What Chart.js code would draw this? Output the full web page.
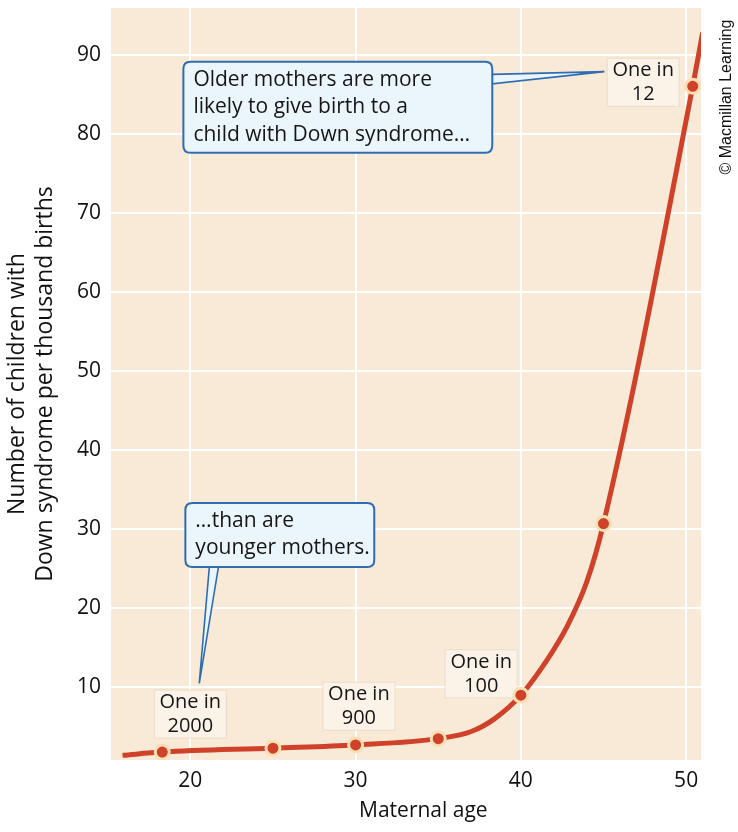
<!DOCTYPE html>
<html>
<head>
<meta charset="utf-8">
<script src="https://cdn.jsdelivr.net/npm/chart.js@4"></script>
<style>
  html, body { margin: 0; padding: 0; background: #fff; }
  #chart { display: block; }
</style>
</head>
<body>
<canvas id="chart" width="738" height="832"></canvas>
<script>
// values
const markerAges = [18.3, 25, 30, 35, 40, 45, 50.4];
const markerRates = [1.8, 2.3, 2.7, 3.5, 9, 30.7, 86];
const curveAges = [15.9, 18.3, 25, 30, 35, 37, 38.4, 40, 41.6, 42.8, 44, 45, 50.4, 51];
const curveRates = [1.4, 1.8, 2.3, 2.7, 3.5, 4.4, 6.0, 9, 13.5, 17.7, 23.4, 30.7, 86, 92.8];
const xTicks = [20, 30, 40, 50];
const yTicks = [10, 20, 30, 40, 50, 60, 70, 80, 90];
const rateLabels = [['One in', '2000'], ['One in', '900'], ['One in', '100'], ['One in', '12']];
const calloutTexts = [
    ['Older mothers are more', 'likely to give birth to a', 'child with Down syndrome\u2026'],
    ['\u2026than are', 'younger mothers.']
];

// where the labels sit (data units)
const rateLabelPos = [[20.0, 6.6], [30.2, 7.6], [37.6, 11.7], [47.4, 86.5]];
const calloutBoxes = [
    {x1: 19.58, x2: 38.27, yTop: 89.1, yBot: 77.6, base: [[38.27, 87.5], [38.27, 86.3]], tip: [45.05, 87.85]},
    {x1: 19.7, x2: 31.13, yTop: 33.3, yBot: 25.2, base: [[21.15, 25.2], [21.7, 25.2]], tip: [20.54, 10.5]}
];

const FONT = '"Open Sans", "Noto Sans", sans-serif';
const RED = '#cf4128';

function toPoints(xs, ys) {
    return xs.map((v, i) => ({x: v, y: ys[i]}));
}

function roundRect(ctx, x, y, w, h, r) {
    ctx.beginPath();
    ctx.moveTo(x + r, y);
    ctx.lineTo(x + w - r, y);
    ctx.quadraticCurveTo(x + w, y, x + w, y + r);
    ctx.lineTo(x + w, y + h - r);
    ctx.quadraticCurveTo(x + w, y + h, x + w - r, y + h);
    ctx.lineTo(x + r, y + h);
    ctx.quadraticCurveTo(x, y + h, x, y + h - r);
    ctx.lineTo(x, y + r);
    ctx.quadraticCurveTo(x, y, x + r, y);
    ctx.closePath();
}

const deco = {
    id: 'deco',
    beforeDraw(chart) {
        const a = chart.chartArea;
        const ctx = chart.ctx;
        ctx.save();
        ctx.fillStyle = '#f9ead7';
        ctx.fillRect(a.left, a.top, a.right - a.left, a.bottom - a.top);
        ctx.restore();
    },
    beforeDatasetsDraw(chart) {
        const ctx = chart.ctx;
        const sx = chart.scales.x, sy = chart.scales.y;
        ctx.save();
        // "One in ..." labels
        ctx.font = '20px ' + FONT;
        ctx.textAlign = 'center';
        ctx.textBaseline = 'middle';
        rateLabels.forEach((lines, i) => {
            const px = sx.getPixelForValue(rateLabelPos[i][0]);
            const py = sy.getPixelForValue(rateLabelPos[i][1]);
            ctx.fillStyle = '#fcf3e8';
            ctx.fillRect(px - 36, py - 24, 72, 48);
            ctx.strokeStyle = 'rgba(226,208,182,0.6)';
            ctx.lineWidth = 1;
            ctx.strokeRect(px - 36, py - 24, 72, 48);
            ctx.fillStyle = '#161616';
            ctx.fillText(lines[0], px, py - 12);
            ctx.fillText(lines[1], px, py + 12);
        });

        // callouts
        calloutBoxes.forEach((b, i) => {
            const x1 = sx.getPixelForValue(b.x1), x2 = sx.getPixelForValue(b.x2);
            const y1 = sy.getPixelForValue(b.yTop), y2 = sy.getPixelForValue(b.yBot);
            ctx.fillStyle = '#eaf6fc';
            ctx.strokeStyle = '#2f6db0';
            ctx.lineWidth = 1.6;
            ctx.beginPath();
            ctx.moveTo(sx.getPixelForValue(b.base[0][0]), sy.getPixelForValue(b.base[0][1]));
            ctx.lineTo(sx.getPixelForValue(b.tip[0]), sy.getPixelForValue(b.tip[1]));
            ctx.lineTo(sx.getPixelForValue(b.base[1][0]), sy.getPixelForValue(b.base[1][1]));
            ctx.closePath();
            ctx.fill();
            ctx.stroke();
            ctx.lineWidth = 2;
            roundRect(ctx, x1, y1, x2 - x1, y2 - y1, 7);
            ctx.fill();
            ctx.stroke();
            ctx.fillStyle = '#161616';
            ctx.textAlign = 'left';
            ctx.font = '21px ' + FONT;
            calloutTexts[i].forEach((t, k) => {
                ctx.fillText(t, x1 + 10, y1 + 18 + k * 27.5);
            });
        });
        ctx.restore();
    },
    afterDraw(chart) {
        const ctx = chart.ctx;
        const sx = chart.scales.x;
        ctx.save();
        ctx.fillStyle = '#111';
        ctx.font = '21px ' + FONT;
        ctx.textAlign = 'center';
        ctx.textBaseline = 'middle';
        ctx.fillText('Maternal age', sx.getPixelForValue(34.1), 811);

        // credit line down the right edge
        ctx.translate(727, 97);
        ctx.rotate(-Math.PI / 2);
        ctx.font = '16px "Liberation Sans", Arial, sans-serif';
        ctx.fillText('\u00a9 Macmillan Learning', 0, 0);
        ctx.restore();
    }
};

new Chart(document.getElementById('chart'), {
    type: 'line',
    data: {
        datasets: [{
            data: toPoints(markerAges, markerRates),
            showLine: false,
            pointRadius: 7,
            pointBorderWidth: 3,
            pointBackgroundColor: RED,
            pointBorderColor: '#f7dfb5',
            order: 0
        }, {
            data: toPoints(curveAges, curveRates),
            borderColor: RED,
            borderWidth: 5,
            pointRadius: 0,
            cubicInterpolationMode: 'monotone',
            fill: false,
            order: 1
        }]
    },
    options: {
        responsive: false,
        animation: false,
        devicePixelRatio: 1,
        layout: { autoPadding: false, padding: { top: 8, right: 37, left: 0, bottom: 0 } },
        plugins: {
            legend: { display: false },
            tooltip: { enabled: false }
        },
        scales: {
            x: {
                type: 'linear',
                min: 15.2,
                max: 50.9,
                afterBuildTicks: s => { s.ticks = xTicks.map(v => ({value: v})); },
                afterFit: s => { s.height = 72; s.paddingLeft = 0; s.paddingRight = 0; },
                border: { display: false },
                grid: { color: '#ffffff', lineWidth: 2, drawTicks: false },
                ticks: { color: '#111', font: { size: 21, family: FONT }, padding: 8 }
            },
            y: {
                min: 0.8,
                max: 95.9,
                afterBuildTicks: s => { s.ticks = yTicks.map(v => ({value: v})); },
                afterFit: s => { s.width = 111; s.paddingTop = 0; s.paddingBottom = 0; },
                border: { display: false },
                grid: { color: '#ffffff', lineWidth: 2, drawTicks: false },
                ticks: { color: '#111', font: { size: 21, family: FONT }, padding: 10 },
                title: {
                    display: true,
                    text: ['Number of children with', 'Down syndrome per thousand births'],
                    color: '#111',
                    font: { size: 23, family: FONT, lineHeight: 1.2 },
                    padding: { top: 4, bottom: 0 }
                }
            }
        }
    },
    plugins: [deco]
});
</script>
</body>
</html>
